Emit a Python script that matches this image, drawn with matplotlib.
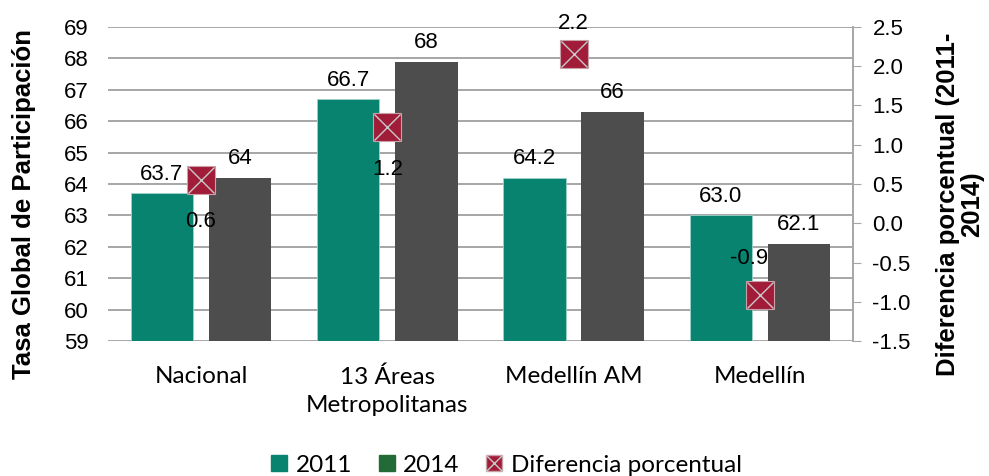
import matplotlib.pyplot as plt
import numpy as np
from matplotlib.patches import Patch
from matplotlib.lines import Line2D

categories = ['Nacional', '13 Áreas\nMetropolitanas', 'Medellín AM', 'Medellín']
tasa_2011 = [63.7, 66.7, 64.2, 63.0]
tasa_2014 = [64.2, 67.9, 66.3, 62.1]
labels_2011 = ['63.7', '66.7', '64.2', '63.0']
labels_2014 = ['64', '68', '66', '62.1']
diferencia = [0.55, 1.22, 2.16, -0.91]
labels_dif = ['0.6', '1.2', '2.2', '-0.9']

teal = '#07836F'
gray = '#4D4D4D'
green = '#226B36'
red = '#A01C38'

plt.rcParams['font.family'] = ['Liberation Sans', 'DejaVu Sans']
calibri_like = ['Lato', 'DejaVu Sans']

fig = plt.figure(figsize=(9.89, 4.76), dpi=100)
ax = fig.add_axes([0.109, 0.2836, 0.7535, 0.6597])
ax2 = ax.twinx()

x = np.arange(len(categories))
w = 0.335
ax.bar(x - 0.21, np.array(tasa_2011) - 59, w, bottom=59, color=teal, edgecolor='#9FD3CA', linewidth=0.6, zorder=3)
ax.bar(x + 0.21, np.array(tasa_2014) - 59, w, bottom=59, color=gray, zorder=3)

for i in range(len(categories)):
    ax.annotate(labels_2011[i], (x[i] - 0.21, tasa_2011[i]), xytext=(0, 6), textcoords='offset points',
                ha='center', va='bottom', fontsize=16)
    ax.annotate(labels_2014[i], (x[i] + 0.21, tasa_2014[i]), xytext=(0, 6), textcoords='offset points',
                ha='center', va='bottom', fontsize=16)

ax.set_ylim(59, 69)
ax.set_xlim(-0.5, 3.5)
ax.set_yticks(range(59, 70))
ax.yaxis.grid(True, color='#A6A6A6', linewidth=1.4, zorder=0)
ax.set_axisbelow(True)
ax.tick_params(axis='y', length=0, labelsize=16, pad=14)
ax.tick_params(axis='x', length=0, pad=18)
ax.set_xticks(x)
ax.set_xticklabels(categories, fontsize=17.5, family=calibri_like, linespacing=1.45, va='top')
for s in ['left', 'top', 'bottom', 'right']:
    ax.spines[s].set_visible(False)

ax2.plot(x, diferencia, linestyle='none', marker='s', markersize=20, markerfacecolor=red,
         markeredgecolor='#C9A0A8', markeredgewidth=0.8, zorder=5)
ax2.plot(x, diferencia, linestyle='none', marker='x', markersize=19, color='#C8C8C8', markeredgewidth=1.0, zorder=6)
offsets = [-30, -30, 22, 26]
for i in range(len(categories)):
    dx = -8 if i == 3 else 0
    ax2.annotate(labels_dif[i], (x[i], diferencia[i]), xytext=(dx, offsets[i]), textcoords='offset points',
                 ha='center', va='center', fontsize=16)
ax2.set_ylim(-1.5, 2.5)
ax2.set_yticks(np.arange(-1.5, 2.51, 0.5))
ax2.set_yticklabels([f'{v:.1f}' for v in np.arange(-1.5, 2.51, 0.5)])
ax2.tick_params(axis='y', direction='out', length=6, color='#A6A6A6', labelsize=16, pad=8)
for s in ['left', 'top', 'bottom']:
    ax2.spines[s].set_visible(False)
ax2.spines['right'].set_color('#A6A6A6')
ax2.spines['right'].set_linewidth(1.4)

# axis titles
fig.text(24 / 989, 1 - 204 / 476, 'Tasa Global de Participación', rotation=90, ha='center', va='center',
         fontsize=18.5, fontweight='bold')
fig.text(960 / 989, 1 - 204 / 476, 'Diferencia porcentual (2011-\n2014)', rotation=90, ha='center',
         va='center', multialignment='center', fontsize=18.5, fontweight='bold', linespacing=1.0)

sq = Line2D([], [], linestyle='none', marker='s', markersize=12, markerfacecolor=red, markeredgecolor='#C9A0A8')
xx = Line2D([], [], linestyle='none', marker='x', markersize=11, color='#C8C8C8', markeredgewidth=1.0)
handles = [Patch(color=teal), Patch(color=green), (sq, xx)]
fig.legend(handles, ['2011', '2014', 'Diferencia porcentual'], loc='lower center', ncol=3,
           bbox_to_anchor=(0.512, -0.045), frameon=False, handlelength=0.65, handleheight=0.65,
           handletextpad=0.35, columnspacing=1.1, prop={'family': calibri_like, 'size': 17.5})

fig.savefig('out.png', dpi=100)
